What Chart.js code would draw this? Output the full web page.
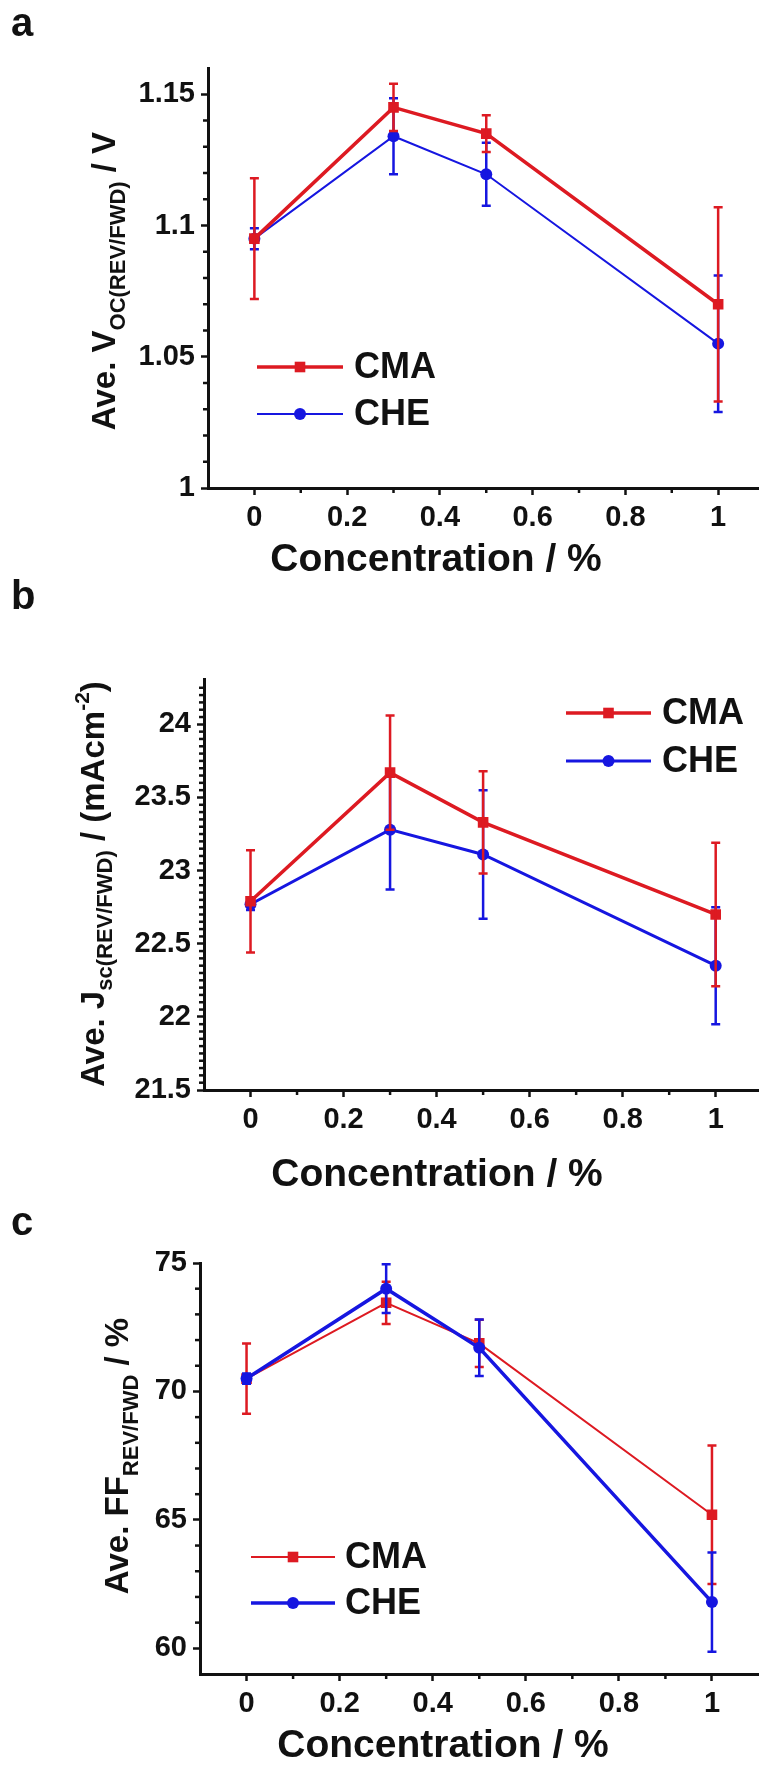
<!DOCTYPE html>
<html>
<head>
<meta charset="utf-8">
<title>Voc / Jsc / FF vs concentration</title>
<script src="https://cdn.jsdelivr.net/npm/chart.js@4.4.1/dist/chart.umd.min.js"></script>
<style>
  html, body { margin: 0; padding: 0; background: #fff; }
  body { position: relative; width: 766px; height: 1766px; overflow: hidden; }
  canvas { position: absolute; left: 0; }
</style>
</head>
<body>
<canvas id="panelA" width="766" height="578" style="top:0"></canvas>
<canvas id="panelB" width="766" height="626" style="top:578px"></canvas>
<canvas id="panelC" width="766" height="562" style="top:1204px"></canvas>
<script>
// values
const concentrations = [0, 0.3, 0.5, 1];

const vocCMA = [1.095, 1.145, 1.135, 1.070];
const vocCMAErr = [0.023, 0.009, 0.007, 0.037];
const vocCHE = [1.095, 1.134, 1.1195, 1.055];
const vocCHEErr = [0.004, 0.0145, 0.012, 0.026];

const jscCMA = [22.79, 23.67, 23.33, 22.70];
const jscCMAErr = [0.35, 0.39, 0.35, 0.49];
const jscCHE = [22.77, 23.28, 23.11, 22.35];
const jscCHEErr = [0.04, 0.41, 0.44, 0.40];

const ffCMA = [70.5, 73.45, 71.87, 65.2];
const ffCMAErr = [1.37, 0.82, 0.92, 2.7];
const ffCHE = [70.5, 74.0, 71.7, 61.8];
const ffCHEErr = [0.2, 0.95, 1.1, 1.93];

const xTicks = [0, 0.2, 0.4, 0.6, 0.8, 1];
const xTickLabels = ['0', '0.2', '0.4', '0.6', '0.8', '1'];
const xMinorTicks = [0.1, 0.3, 0.5, 0.7, 0.9];
const vocTicks = [1, 1.05, 1.1, 1.15];
const vocTickLabels = ['1', '1.05', '1.1', '1.15'];
const jscTicks = [21.5, 22, 22.5, 23, 23.5, 24];
const jscTickLabels = ['21.5', '22', '22.5', '23', '23.5', '24'];
const ffTicks = [60, 65, 70, 75];
const ffTickLabels = ['60', '65', '70', '75'];

const FONT = '"Liberation Sans", Arial, Helvetica, sans-serif';
const INK = '#111111';
const RED = '#dd1a22';
const BLUE = '#1616e0';

Chart.defaults.font.family = FONT;
Chart.defaults.font.weight = 'bold';
Chart.defaults.color = INK;

// error bars, drawn right after their own series
const errorBars = {
  id: 'errorBars',
  afterDatasetDraw(chart, args) {
    const ds = chart.data.datasets[args.index];
    if (!ds.errors) return;
    const { ctx, scales } = chart;
    ctx.save();
    ctx.strokeStyle = ds.borderColor;
    ctx.lineWidth = 2.5;
    ds.data.forEach((pt, i) => {
      const e = ds.errors[i];
      const px = scales.x.getPixelForValue(pt.x);
      const top = scales.y.getPixelForValue(pt.y + e);
      const bot = scales.y.getPixelForValue(pt.y - e);
      ctx.beginPath();
      ctx.moveTo(px, top); ctx.lineTo(px, bot);
      ctx.moveTo(px - 4.5, top); ctx.lineTo(px + 4.5, top);
      ctx.moveTo(px - 4.5, bot); ctx.lineTo(px + 4.5, bot);
      ctx.stroke();
    });
    ctx.restore();
  }
};

function drawMarker(ctx, style, r, x, y) {
  ctx.beginPath();
  if (style === 'rect') {
    const s = r * Math.SQRT1_2;
    ctx.rect(x - s, y - s, 2 * s, 2 * s);
  } else {
    ctx.arc(x, y, r, 0, Math.PI * 2);
  }
  ctx.fill();
}

// rotated axis title with sub/superscripts
function drawVerticalTitle(ctx, parts, x, y) {
  ctx.save();
  ctx.translate(x, y);
  ctx.rotate(-Math.PI / 2);
  ctx.fillStyle = INK;
  ctx.textBaseline = 'alphabetic';
  ctx.textAlign = 'left';
  let total = 0;
  const widths = parts.map(([t, size]) => {
    ctx.font = `bold ${size}px ${FONT}`;
    const w = ctx.measureText(t).width;
    total += w;
    return w;
  });
  let cx = -total / 2;
  parts.forEach(([t, size, shift], i) => {
    ctx.font = `bold ${size}px ${FONT}`;
    ctx.fillText(t, cx, shift);
    cx += widths[i];
  });
  ctx.restore();
}

const panelDecor = {
  id: 'panelDecor',
  afterDraw(chart, args, o) {
    const { ctx, chartArea, scales } = chart;
    ctx.save();

    // minor ticks
    ctx.strokeStyle = INK;
    ctx.lineWidth = 2.5;
    xMinorTicks.forEach(v => {
      const px = scales.x.getPixelForValue(v);
      ctx.beginPath();
      ctx.moveTo(px, chartArea.bottom);
      ctx.lineTo(px, chartArea.bottom + 5);
      ctx.stroke();
    });
    const y = scales.y;
    const n = Math.round((y.max - y.min) / o.yMinorStep);
    for (let k = 1; k < n; k++) {
      const v = y.min + k * o.yMinorStep;
      if (y.ticks.some(t => Math.abs(t.value - v) < o.yMinorStep / 10)) continue;
      const py = y.getPixelForValue(v);
      ctx.beginPath();
      ctx.moveTo(chartArea.left, py);
      ctx.lineTo(chartArea.left - 5, py);
      ctx.stroke();
    }

    // panel letter
    ctx.fillStyle = INK;
    ctx.font = `bold 40px ${FONT}`;
    ctx.textAlign = 'left';
    ctx.textBaseline = 'alphabetic';
    ctx.fillText(o.letter, 11, o.letterY);

    // x title
    ctx.font = `bold 39px ${FONT}`;
    ctx.textAlign = 'center';
    ctx.fillText('Concentration / %', o.xTitle.x, o.xTitle.y);

    // y title
    drawVerticalTitle(ctx, o.yTitle.parts, o.yTitle.x, o.yTitle.y);

    // legend
    const lg = o.legend;
    lg.items.forEach((idx, row) => {
      const ds = chart.data.datasets[idx];
      const ly = lg.rows[row];
      ctx.strokeStyle = ds.borderColor;
      ctx.lineWidth = ds.borderWidth;
      ctx.beginPath();
      ctx.moveTo(lg.x0, ly);
      ctx.lineTo(lg.x1, ly);
      ctx.stroke();
      ctx.fillStyle = ds.backgroundColor;
      drawMarker(ctx, ds.pointStyle, ds.pointRadius, (lg.x0 + lg.x1) / 2, ly);
      ctx.fillStyle = INK;
      ctx.font = `bold 36px ${FONT}`;
      ctx.textAlign = 'left';
      ctx.textBaseline = 'middle';
      ctx.fillText(ds.label, lg.text, ly + 1);
      ctx.textBaseline = 'alphabetic';
    });

    ctx.restore();
  }
};

function makePanel(p) {
  return new Chart(document.getElementById(p.id), {
    type: 'line',
    data: {
      datasets: p.series.map(s => ({
        label: s.label,
        data: concentrations.map((c, i) => ({ x: c, y: s.values[i] })),
        errors: s.errors,
        order: s.order,
        borderColor: s.color,
        backgroundColor: s.color,
        borderWidth: s.width,
        pointStyle: s.point,
        pointRadius: s.radius,
        pointBorderWidth: 0,
        tension: 0
      }))
    },
    options: {
      responsive: false,
      animation: false,
      events: [],
      layout: { padding: { top: p.area.top, right: p.area.right, bottom: 0, left: 0 } },
      plugins: {
        legend: { display: false },
        tooltip: { enabled: false },
        panelDecor: p.decor
      },
      scales: {
        x: {
          type: 'linear',
          min: -0.1,
          max: p.xMax,
          afterBuildTicks: s => { s.ticks = xTicks.map(v => ({ value: v })); },
          afterFit: s => { s.height = p.area.xHeight; },
          ticks: {
            font: { size: 29, weight: 'bold' },
            padding: 6,
            maxRotation: 0,
            autoSkip: false,
            callback: (v, i) => xTickLabels[i]
          },
          grid: { drawOnChartArea: false, tickLength: 7, tickWidth: 2.5, tickColor: INK },
          border: { color: INK, width: 3 }
        },
        y: {
          type: 'linear',
          min: p.yMin,
          max: p.yMax,
          afterBuildTicks: s => { s.ticks = p.yTicks.map(v => ({ value: v })); },
          afterFit: s => { s.width = p.area.yWidth; },
          ticks: {
            font: { size: 29, weight: 'bold' },
            padding: 6,
            autoSkip: false,
            callback: (v, i) => p.yTickLabels[i]
          },
          grid: { drawOnChartArea: false, tickLength: 7, tickWidth: 2.5, tickColor: INK },
          border: { color: INK, width: 3 }
        }
      }
    },
    plugins: [errorBars, panelDecor]
  });
}

makePanel({
  id: 'panelA',
  area: { top: 68, yWidth: 208, xHeight: 90, right: 0 },
  xMax: 1.087, yMin: 1, yMax: 1.16,
  yTicks: vocTicks, yTickLabels: vocTickLabels,
  series: [
    { label: 'CMA', values: vocCMA, errors: vocCMAErr, color: RED, width: 3.5, point: 'rect', radius: 7.5, order: 0 },
    { label: 'CHE', values: vocCHE, errors: vocCHEErr, color: BLUE, width: 2, point: 'circle', radius: 6, order: 1 }
  ],
  decor: {
    letter: 'a', letterY: 36, yMinorStep: 0.01,
    xTitle: { x: 436, y: 571 },
    yTitle: { x: 115, y: 281, parts: [['Ave. V', 33, 0], ['OC(REV/FWD)', 22, 10], [' / V', 33, 0]] },
    legend: { x0: 257, x1: 343, text: 354, rows: [367, 414], items: [0, 1] }
  }
});

makePanel({
  id: 'panelB',
  area: { top: 101, yWidth: 204, xHeight: 114, right: 0 },
  xMax: 1.092, yMin: 21.5, yMax: 24.31,
  yTicks: jscTicks, yTickLabels: jscTickLabels,
  series: [
    { label: 'CMA', values: jscCMA, errors: jscCMAErr, color: RED, width: 3.5, point: 'rect', radius: 7.5, order: 0 },
    { label: 'CHE', values: jscCHE, errors: jscCHEErr, color: BLUE, width: 3, point: 'circle', radius: 6, order: 1 }
  ],
  decor: {
    letter: 'b', letterY: 31, yMinorStep: 0.05,
    xTitle: { x: 437, y: 608 },
    yTitle: { x: 104, y: 306, parts: [['Ave. J', 33, 0], ['sc(REV/FWD)', 22, 8], [' / (mAcm', 33, 0], ['-2', 21, -15], [')', 33, 0]] },
    legend: { x0: 566, x1: 651, text: 662, rows: [135, 183], items: [0, 1] }
  }
});

makePanel({
  id: 'panelC',
  area: { top: 59, yWidth: 200, xHeight: 92, right: 2 },
  xMax: 1.1, yMin: 59, yMax: 75,
  yTicks: ffTicks, yTickLabels: ffTickLabels,
  series: [
    { label: 'CMA', values: ffCMA, errors: ffCMAErr, color: RED, width: 2, point: 'rect', radius: 7.5, order: 1 },
    { label: 'CHE', values: ffCHE, errors: ffCHEErr, color: BLUE, width: 3.5, point: 'circle', radius: 6, order: 0 }
  ],
  decor: {
    letter: 'c', letterY: 31, yMinorStep: 1,
    xTitle: { x: 443, y: 553 },
    yTitle: { x: 128, y: 252, parts: [['Ave. FF', 33, 0], ['REV/FWD', 22, 10], [' / %', 33, 0]] },
    legend: { x0: 251, x1: 335, text: 345, rows: [353, 399], items: [0, 1] }
  }
});
</script>
</body>
</html>
